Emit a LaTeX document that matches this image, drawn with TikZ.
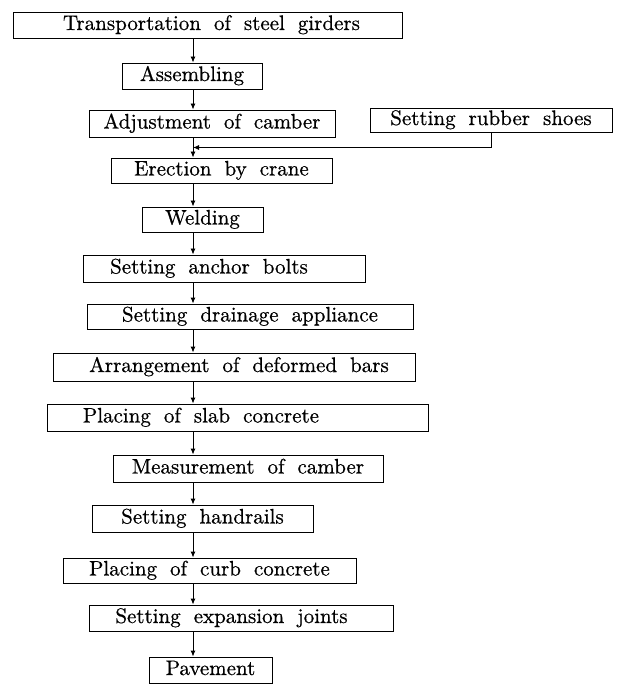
\documentclass[tikz,border=0pt]{standalone}
\usetikzlibrary{arrows.meta}
\DeclareFontFamily{TU}{lmten}{}
\DeclareFontShape{TU}{lmten}{m}{n}{<-> "[lmroman10-regular]:+tlig;embolden=0.6"}{}
\newcommand\flowfont{\fontencoding{TU}\fontfamily{lmten}\fontseries{m}\fontshape{n}\fontsize{21}{24}\selectfont\spaceskip=0.62em\relax}
\tikzset{
  box/.style={draw, line width=0.9pt, inner sep=0pt, text height=14.5pt, text depth=4.5pt, font=\flowfont, anchor=center},
  arr/.style={line width=0.9pt, -{Latex[length=6pt,width=5pt]}}
}
\begin{document}
\begin{tikzpicture}[x=1pt,y=-1pt]
\useasboundingbox (0,0) rectangle (617,684);
\coordinate (t) at (193,0);
\node[box, minimum width=389pt, minimum height=26pt] (b1) at (207.5,25) {\kern8pt Transportation of steel girders};
\node[box, minimum width=140pt, minimum height=26pt] (b2) at (192,76) {Assembling};
\node[box, minimum width=246pt, minimum height=27pt] (b3) at (212,123.5) {Adjustment of camber};
\node[box, minimum width=242pt, minimum height=24pt] (rs) at (491,120) {Setting rubber shoes};
\node[box, minimum width=221pt, minimum height=25pt] (b4) at (221.5,170.5) {Erection by crane};
\node[box, minimum width=121pt, minimum height=25pt] (b5) at (202.5,219.5) {Welding};
\node[box, minimum width=282pt, minimum height=27pt] (b6) at (224,268.5) {Setting anchor bolts\kern30pt};
\node[box, minimum width=326pt, minimum height=25pt] (b7) at (250,316.5) {Setting drainage appliance};
\node[box, minimum width=362pt, minimum height=28pt] (b8) at (234,367) {\kern10pt Arrangement of deformed bars};
\node[box, minimum width=381pt, minimum height=27pt] (b9) at (237.5,417.5) {Placing of slab concrete\kern73pt};
\node[box, minimum width=270pt, minimum height=27pt] (b10) at (248,468.5) {Measurement of camber};
\node[box, minimum width=221pt, minimum height=27pt] (b11) at (202.5,518.5) {Setting handrails};
\node[box, minimum width=293pt, minimum height=25pt] (b12) at (209.5,570.5) {Placing of curb concrete};
\node[box, minimum width=304pt, minimum height=26pt] (b13) at (241,618) {Setting expansion joints\kern19pt};
\node[box, minimum width=123pt, minimum height=26pt] (b14) at (210.5,670) {Pavement};
\coordinate (j) at (193,147.5);
\foreach \a/\b in {b1/b2,b2/b3,b3/b4,b4/b5,b5/b6,b6/b7,b7/b8,b8/b9,b9/b10,b10/b11,b11/b12,b12/b13,b13/b14}
  \draw[arr] (\a.south -| t) -- (\b.north -| t);
\draw[arr] (rs.south) |- (j);
\end{tikzpicture}
\end{document}
